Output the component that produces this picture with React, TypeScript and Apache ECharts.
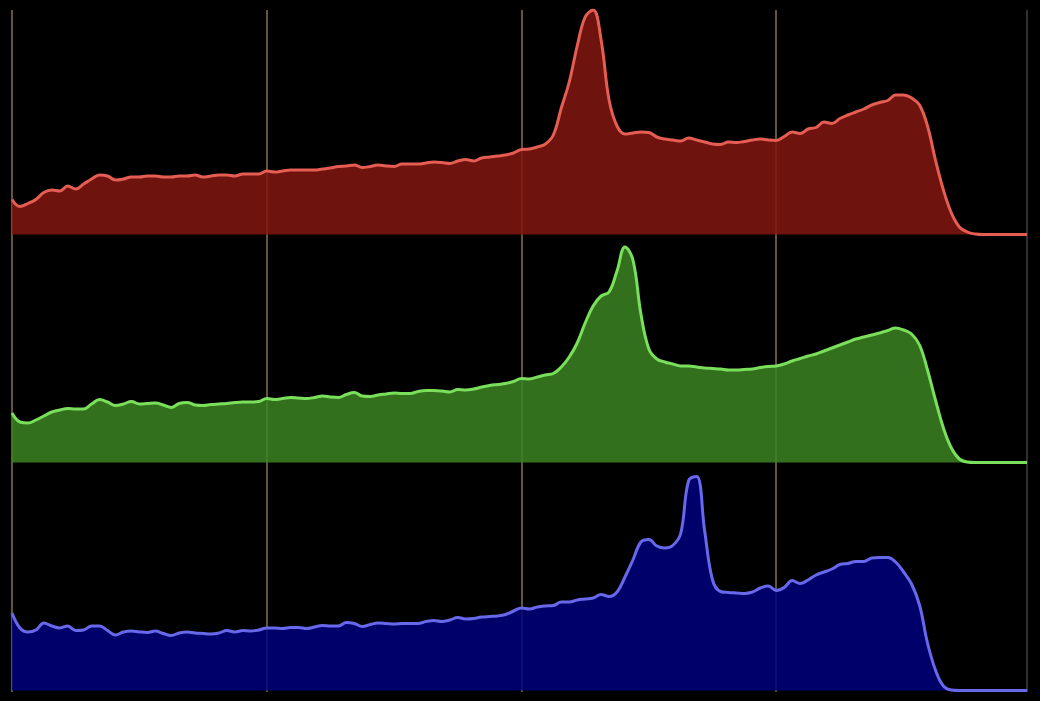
import { useEffect, useRef } from 'react';
import * as echarts from 'echarts';

// histogram bins, sampled every 2 levels, plus the last level
const bins: number[] = [];
for (let b = 0; b < 256; b += 2) bins.push(b);
bins.push(255);

const redCounts = [
  35, 28, 31, 35, 42, 44.5, 43.5, 48.5, 45.5, 50.5,
  55.5, 59.5, 58.5, 54.5, 55.5, 57.5, 57.5, 58.5, 58.5, 57.5,
  57.5, 58.5, 58.5, 59.5, 57.5, 58.5, 59.5, 59.5, 58.5, 60.5,
  60.5, 60.5, 63.5, 62.5, 63.5, 64.5, 64.5, 64.5, 64.5, 65.5,
  66.5, 68, 68.5, 69.5, 67, 68, 69.5, 68.5, 68, 70.5,
  70.5, 70.5, 71.5, 72.5, 72, 71, 73.5, 75, 73.5, 76.5,
  77.5, 78.5, 79.5, 81.5, 85, 85.5, 87.5, 90.5, 99.5, 126.5,
  152.5, 188.5, 217.5, 224.5, 194.5, 134.5, 108.5, 100.5, 101.5, 102.5,
  102, 97.5, 95.5, 94.5, 93.5, 96.5, 94.5, 92.5, 90.5, 90,
  92.5, 92, 93, 94.5, 95.5, 94.5, 94, 98, 102.5, 101,
  105.5, 107, 112.5, 111, 116, 119.5, 122.5, 125.5, 129.5, 132,
  134, 139.5, 139.5, 136.5, 129.5, 108.5, 74.5, 44.5, 21.5, 7.5,
  2.5, 0.5, 0, 0, 0, 0, 0, 0, 0,
];

const greenCounts = [
  49.5, 40.5, 39.5, 42.5, 46.5, 50.5, 52.5, 54, 53.5, 53.5,
  58.5, 63, 60.5, 57, 58.5, 61, 58.5, 59, 59.5, 57.5,
  55, 59, 60, 57.5, 57, 58, 58.5, 59, 60, 60.5,
  60.5, 61, 64, 63, 64, 65, 64.5, 64, 65, 66.5,
  65.5, 65, 68, 70, 66.5, 66, 67.5, 68.5, 69.5, 69,
  69, 71, 72, 72, 71.5, 70.5, 73, 72.5, 73.5, 75.5,
  77, 78, 79, 81, 84, 83.5, 85.5, 87.5, 89, 95.5,
  105.5, 119.5, 139.5, 156.5, 166.5, 170.5, 191.5, 215.5, 202.5, 148.5,
  113.5, 103.5, 100.5, 98.5, 96.5, 96.5, 95.5, 94.5, 94, 93.5,
  92.5, 92.5, 93, 93.5, 95, 96, 96.5, 98.5, 101.5, 104,
  106.5, 108.5, 111.5, 114.5, 117.5, 120.5, 123.5, 125.5, 127.5, 129.5,
  132, 134.5, 132.5, 128.5, 117.5, 92.5, 62.5, 34.5, 14.5, 3.5,
  0.5, 0, 0, 0, 0, 0, 0, 0, 0,
];

const blueCounts = [
  77.5, 62.5, 58.5, 60.5, 67.5, 64.5, 62.5, 64.5, 60, 60.5,
  64.5, 64.5, 60, 55.5, 58.5, 59.5, 58.5, 58, 59.5, 57,
  55, 57.5, 58.5, 57.5, 57, 56.5, 57.5, 60, 58.5, 60,
  59.5, 60.5, 62.5, 62.5, 62, 63, 63, 62, 63.5, 65,
  64.5, 64.5, 68, 67, 64, 66, 67.5, 67, 66.5, 67,
  67, 67, 69, 70, 69, 70.5, 73, 71.5, 72, 73.5,
  74, 74.5, 76, 79.5, 82.5, 81.5, 83.5, 84.5, 85, 88.5,
  88.5, 90.5, 91.5, 92.5, 96, 94, 98.5, 113.5, 130.5, 148.5,
  151, 144.5, 142.5, 145, 157, 210, 214, 160, 110.5, 99,
  98, 97.5, 97, 98.5, 102.5, 104.5, 100, 103, 110, 107,
  110.5, 115.5, 118.5, 121.5, 126, 127, 129, 129, 132.5, 133,
  133, 128.5, 118.5, 106.5, 85.5, 47.5, 20.5, 4.5, 0.5, 0,
  0, 0, 0, 0, 0, 0, 0, 0, 0,
];

const channels = [
  { name: 'R', counts: redCounts, line: '#e55d53', fill: 'rgba(130,22,16,0.85)' },
  { name: 'G', counts: greenCounts, line: '#7ae05c', fill: 'rgba(59,132,35,0.85)' },
  { name: 'B', counts: blueCounts, line: '#6868ea', fill: 'rgba(0,0,124,0.85)' },
];

const yMax = 224.5;
const gridTops = [10, 238, 466];

const App: React.FC = () => {
  const chartRef = useRef<HTMLDivElement>(null);

  useEffect(() => {
    if (!chartRef.current) return;
    document.body.style.margin = '0';
    document.body.style.background = '#000';

    const mychart = echarts.init(chartRef.current, null, { renderer: 'svg' });

    const grids: any[] = gridTops.map((top) => ({ left: 12, right: 13, top, height: 224.5 }));
    // full-height grid carrying only the vertical level lines
    grids.push({ left: 12, right: 13, top: 10, bottom: 9 });

    const xAxes: any[] = gridTops.map((_, i) => ({
      type: 'value', gridIndex: i, min: 0, max: 255, show: false,
    }));
    xAxes.push({
      type: 'value', gridIndex: 3, min: 0, max: 255, interval: 64,
      axisLine: { show: false }, axisTick: { show: false }, axisLabel: { show: false },
      splitLine: {
        show: true,
        lineStyle: { color: ['#65543a', '#65543a', '#65543a', '#65543a', '#303030'], width: 2 },
      },
    });

    const yAxes: any[] = gridTops.map((_, i) => ({
      type: 'value', gridIndex: i, min: 0, max: yMax, show: false,
    }));
    yAxes.push({ type: 'value', gridIndex: 3, min: 0, max: 1, show: false });

    const option = {
      animation: false,
      backgroundColor: '#000',
      grid: grids,
      xAxis: xAxes,
      yAxis: yAxes,
      series: channels.map((c, i) => ({
        name: c.name,
        type: 'line',
        xAxisIndex: i,
        yAxisIndex: i,
        data: bins.map((b, j) => [b, c.counts[j]]),
        smooth: 0.4,
        showSymbol: false,
        lineStyle: { color: c.line, width: 3 },
        areaStyle: { color: c.fill, opacity: 1 },
        z: 3,
      })),
    };
    mychart.setOption(option);

    return () => {
      if (!mychart.isDisposed()) {
        mychart.dispose();
      }
    };
  }, []);

  return <div ref={chartRef} style={{ width: '1040px', height: '701px' }}></div>;
};

export default App;
